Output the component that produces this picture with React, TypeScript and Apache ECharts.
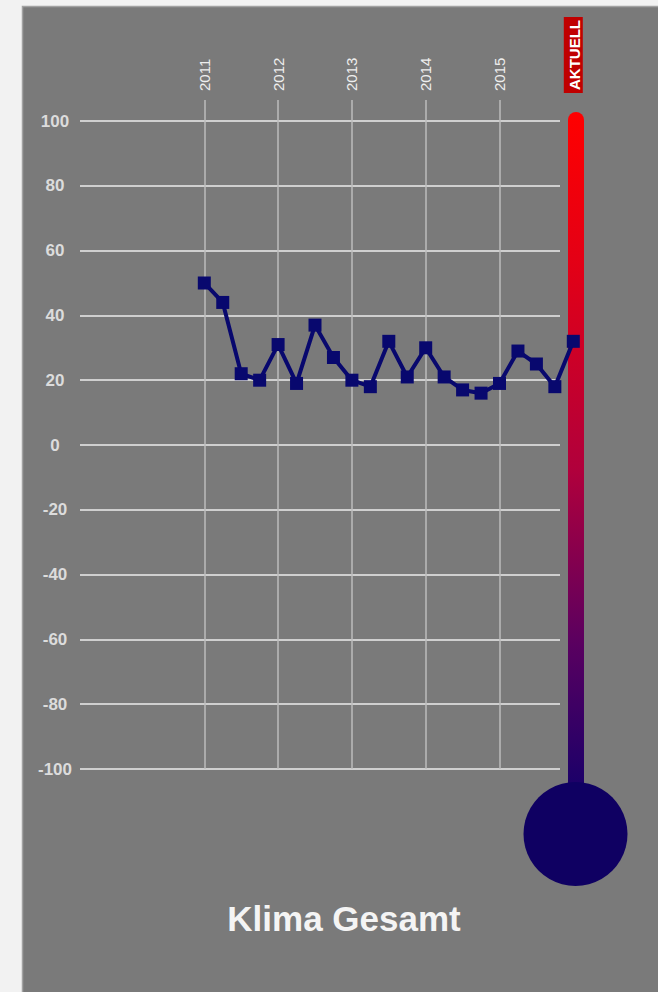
import React, { useEffect, useRef } from "react";
import * as echarts from "echarts";

const periods = [
  2011, 2011.25, 2011.5, 2011.75,
  2012, 2012.25, 2012.5, 2012.75,
  2013, 2013.25, 2013.5, 2013.75,
  2014, 2014.25, 2014.5, 2014.75,
  2015, 2015.25, 2015.5, 2015.75,
  2016,
];
const klimaValues = [
  50, 44, 22, 20,
  31, 19, 37, 27,
  20, 18, 32, 21,
  30, 21, 17, 16,
  19, 29, 25, 18,
  32,
];
const yearTicks = [2011, 2012, 2013, 2014, 2015];
const currentLabel = "AKTUELL";
const title = "Klima Gesamt";

const FONT = "'Liberation Sans', Arial, Helvetica, sans-serif";

export default function App() {
  const ref = useRef<HTMLDivElement>(null);

  useEffect(() => {
    document.body.style.margin = "0";
    if (!ref.current) return;
    const chart = echarts.init(ref.current, undefined, { renderer: "svg" });

    const lastYear = yearTicks[yearTicks.length - 1] + 1;
    const splitColors = yearTicks.map(() => "#bdbdbd").concat(["rgba(0,0,0,0)"]);

    chart.setOption({
      animation: false,
      backgroundColor: "#f2f2f2",
      graphic: [
        {
          type: "rect",
          z: -10,
          shape: { x: 22.5, y: 6.5, width: 660, height: 1000 },
          style: { fill: "#7a7a7a", stroke: "#a2a2a2", lineWidth: 1.5 },
        },
        {
          type: "rect",
          z: 1,
          shape: { x: 568, y: 112, width: 16, height: 690, r: [8, 8, 0, 0] },
          style: {
            fill: new echarts.graphic.LinearGradient(0, 0, 0, 1, [
              { offset: 0, color: "#ff0000" },
              { offset: 0.22, color: "#e30016" },
              { offset: 0.52, color: "#b0003c" },
              { offset: 0.77, color: "#5a0060" },
              { offset: 1, color: "#14006a" },
            ]),
          },
        },
        {
          type: "circle",
          z: 1,
          shape: { cx: 575.5, cy: 834, r: 52 },
          style: { fill: "#0f0062" },
        },
        {
          type: "text",
          z: 5,
          x: 344,
          y: 918,
          style: {
            text: title,
            fill: "#f4f4f4",
            font: `bold 35px ${FONT}`,
            textAlign: "center",
            textVerticalAlign: "middle",
          },
        },
      ],
      grid: [
        { left: 80, right: 98, top: 121, bottom: 223 },
        { left: 204.3, right: 84.7, top: 100, bottom: 223 },
      ],
      xAxis: [
        { gridIndex: 0, type: "value", min: 0, max: 1, show: false },
        {
          gridIndex: 1,
          type: "value",
          position: "top",
          min: yearTicks[0],
          max: lastYear,
          interval: 1,
          axisLine: { show: false },
          axisTick: { show: false },
          axisLabel: {
            rotate: 90,
            margin: 7,
            color: "#eeeeee",
            fontSize: 15,
            fontFamily: FONT,
            formatter: (v: number) =>
              v === lastYear ? `{a|${currentLabel}}` : `{y|${v}}`,
            rich: {
              y: { fontSize: 15, color: "#eeeeee", fontFamily: FONT, padding: [0, 0, 0, 2] },
              a: {
                fontSize: 15,
                fontWeight: "bold",
                color: "#ffffff",
                fontFamily: FONT,
                backgroundColor: "#c00000",
                padding: [3, 3, 1, 3],
              },
            },
          },
          splitLine: { show: true, lineStyle: { color: splitColors, width: 1.5 } },
        },
      ],
      yAxis: [
        {
          gridIndex: 0,
          type: "value",
          min: -100,
          max: 100,
          interval: 20,
          axisLine: { show: false },
          axisTick: { show: false },
          axisLabel: {
            color: "#dcdcdc",
            fontSize: 17,
            fontWeight: "bold",
            fontFamily: FONT,
            align: "center",
            margin: 25,
          },
          splitLine: { show: true, lineStyle: { color: "#cfcfcf", width: 2 } },
        },
        {
          gridIndex: 1,
          type: "value",
          min: -100,
          max: 106.48,
          show: false,
        },
      ],
      series: [
        {
          type: "line",
          xAxisIndex: 1,
          yAxisIndex: 1,
          z: 5,
          clip: false,
          data: periods.map((p, i) => [p, klimaValues[i]]),
          symbol: "rect",
          symbolSize: 13,
          lineStyle: { color: "#08086e", width: 4 },
          itemStyle: { color: "#08086e" },
        },
      ],
    });

    return () => chart.dispose();
  }, []);

  return (
    <div
      ref={ref}
      style={{ position: "absolute", left: 0, top: 0, width: 658, height: 992 }}
    />
  );
}
